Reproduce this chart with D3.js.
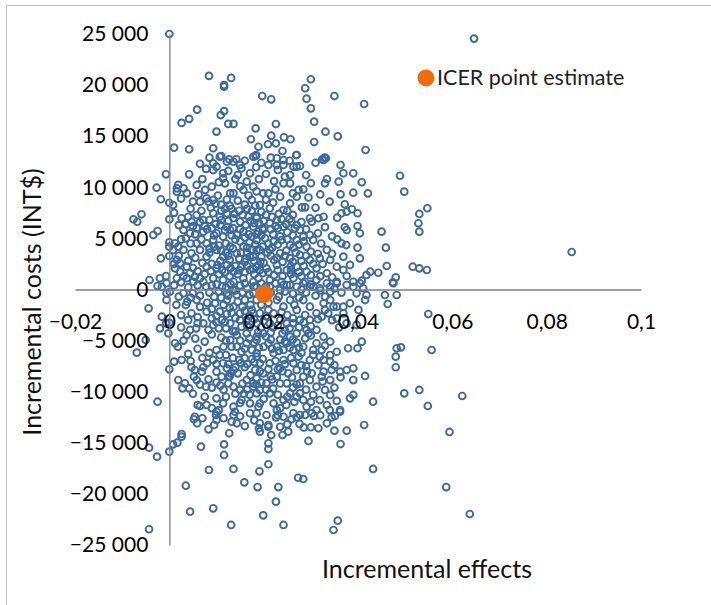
<!DOCTYPE html>
<html lang="en">
    <head>
        <meta charset="utf-8">
        <title>ICER scatter</title>
        <script type="text/javascript" src="https://cdn.jsdelivr.net/npm/d3@7"></script>
        <style type="text/css">
body {
    margin: 0;
    background-color: #ffffff;
}
svg {
    font-family: Lato, "Open Sans", sans-serif;
}
        </style>
    </head>
    <body>
        <script type="text/javascript">
var width=711;      // page size
var height=605;

// tick values of both axes
var xTicks=[-0.02, 0, 0.02, 0.04, 0.06, 0.08, 0.1];
var yTicks=[-25000, -20000, -15000, -10000, -5000, 0, 5000, 10000, 15000, 20000, 25000];

// point estimate of the ICER [effect, cost]
var icerPoint=[0.0201, -450];

// bootstrap replicates [incremental effect, incremental cost]
var psaPoints=[
[0,25000],[0.0646,24550],[0.0853,3670],[0.0621,-10420],
[0.0084,20900],[0.0131,20700],[0.0116,20000],[0.0116,19850],[0.0059,17600],[0.0042,16700],[0.0026,16300],[0.0116,17450],[0.0109,17070],[0.0125,16200],[0.0136,16200],[0.0100,15450],[0.0183,15770],[0.0173,14700],[0.0010,13880],[0.0042,13720],[0.0093,13820],[0.0189,13970],[0.0110,13060],[0.0127,12740],[0.0142,12740],[0.0183,13060],
[0.0197,18930],[0.0216,18610],[0.0300,20570],[0.0288,19690],[0.0291,18670],[0.0350,18930],[0.0300,17730],[0.0413,18150],[0.0307,16420],[0.0331,15440],[0.0226,16190],[0.0357,14990],[0.0216,15050],[0.0243,14890],[0.0257,14700],[0.0209,14210],[0.0226,14300],[0.0307,14430],[0.0240,13550],[0.0416,13650],[0.0269,13160],[0.0228,12840],[0.0329,12900],[0.0324,12740],
[0.0171,-12110],[0.0226,-12510],[0.0192,-13090],[0.0210,-13260],[0.0210,-13430],[0.0190,-13580],[0.0192,-13910],[0.0235,-13430],[0.0216,-14240],[0.0240,-14240],[0.0252,-13910],[0.0259,-12700],[0.0276,-13160],[0.0288,-12280],[0.0302,-12110],[0.0307,-12380],[0.0300,-13480],[0.0316,-13580],[0.0334,-13090],[0.0344,-12510],[0.0351,-12380],[0.0362,-11960],[0.0350,-13810],[0.0376,-13810],[0.0413,-13260],[0.0295,-14820],[0.0363,-15120],[0.0210,-15050],[0.0210,-15610],[0.0210,-17100],[0.0191,-17790],[0.0432,-17560],[0.0594,-13940],[0.0273,-18420],[0.0284,-18540],[0.0187,-19330],[0.0231,-19330],[0.0587,-19330],[0.0226,-20760],[0.0199,-22100],[0.0357,-22620],[0.0348,-23530],[0.0242,-23040],[0.0637,-21970],
[-0.0043,-15480],[-0.0026,-16360],[0,-15870],[0.0008,-15150],[0.0017,-14990],[0.0026,-14400],[0.0026,-14140],[0.0052,-12700],[0.0059,-13090],[0.0083,-13680],[0.0095,-13260],[0.0100,-12770],[0.0099,-12280],[0.0100,-11960],[0.0132,-12940],[0.0143,-13090],[0.0136,-12280],[0.0139,-11960],[0.0160,-13360],[0.0127,-14070],[0.0067,-15380],[0.0116,-15150],[0.0116,-16190],[0.0084,-17660],[0.0136,-17560],[0.0159,-18870],[0.0035,-19200],[0.0044,-21740],[0.0093,-21410],[0.0131,-23040],[-0.0043,-23460],
[-0.0044,-1840],[-0.0016,-2660],[-0.0020,-3800],[-0.0050,-4940],[-0.0069,-6180],[0,-7810],[0.0010,-7060],[-0.0025,-10980],[-0.0006,-1030],[-0.0006,-370],[0.0001,-220],[-0.0016,270],[-0.0025,340],[-0.0006,610],[-0.0007,-3310],[0,-3250],[-0.0002,-4290],[0.0012,-5260],[0.0018,-5600],[0.0037,-4450],[0.0026,-6900],[0.0019,-8860],[0.0028,-9670],[0.0033,-9180],[0.0047,-7610],[0.0054,-7880],[0.0052,-8530],[0.0042,-9670],[0.0058,-8860],[0.0072,-7610],[0.0069,-8040],[0.0078,-9510],[0.0083,-8790],[0.0060,-11300],[0.0065,-11400],[0.0054,-12450],[0.0079,-11300],[0.0044,-3960],[0.0057,-3800],[0.0047,-2330],[0.0035,-1520],[0.0038,-1190],[0.0030,-370],[0.0050,-370],[0.0058,-1030],[0.0072,-3310],[0.0083,-3960],[0.0093,-3470],[0.0090,-2820],[0.0079,-2170],[0.0097,-1350],[0.0107,-2170],[0.0111,-2980],[0.0100,-5920],[0.0107,-6410],[0.0093,-6900],[0.0114,-7220],[0.0122,-7710],[0.0100,-8040],[0.0111,-8530],[0.0125,-8530],[0.0136,-7880],[0.0129,-4940],[0.0143,-5600],[0.0153,-6090],[0.0160,-6730],[0.0164,-5260],[0.0175,-5920],[0.0185,-6570],[0.0143,-4450],[0.0164,-4290],[0.0185,-4620],[0.0136,-9510],[0.0150,-9830],[0.0164,-8860],[0.0178,-9510],[0.0192,-9830],[0.0153,-10810],[0.0171,-11140],[0.0189,-11470],[0.0136,-11470],[0.0114,-11140],[0.0100,-10650],[0.0122,-1030],[0.0136,-1680],[0.0150,-2330],[0.0164,-2980],[0.0129,-3310],[0.0153,-3640],[0.0178,-2330],[0.0185,-3310],[0.0122,-370],[0.0143,-540],[0.0160,-1030],[0.0178,-370],
[0.0242,440],[0.0256,440],[0.0270,270],[0.0284,610],[0.0305,270],[0.0319,120],[0.0341,-220],[0.0355,610],[0.0376,440],[0.0390,270],[0.0404,610],[0.0418,-540],[0.0397,-370],[0.0411,120],[0.0457,-540],[0.0463,-1420],[0.0475,610],[0.0482,-540],[0.0549,-2400],[0.0482,-5750],[0.0491,-5660],[0.0480,-6570],[0.0480,-7610],[0.0556,-5920],[0.0498,-10160],[0.0530,-9830],[0.0548,-11400],[0.0432,-10980],[0.0415,-8460],[0.0390,-8860],[0.0383,-10650],[0.0390,-10320],[0.0362,-11790],[0.0341,-10320],[0.0363,-8590],[0.0399,-5750],[0.0408,-5110],[0.0379,-5750],[0.0355,-6090],[0.0341,-6410],[0.0390,-7710],[0.0376,-7880],[0.0362,-8040],[0.0344,-7880],[0.0327,-8040],[0.0341,-7060],[0.0327,-6900],[0.0319,-6570],[0.0397,-3470],[0.0376,-3310],[0.0355,-2820],[0.0337,-2330],[0.0323,-2660],[0.0348,-1680],[0.0369,-1680],[0.0383,-1350],[0.0401,-2000],[0.0415,-1030],
[-0.0007,11270],[-0.0027,9960],[-0.0018,8830],[0,8490],[0.0008,8270],[0.0016,9900],[0.0016,9570],[0.0019,10230],[0.0042,11270],[0.0037,9410],[0.0050,8590],[0.0065,8590],[0.0058,10230],[0.0076,9740],[0.0090,10060],[0.0093,8760],[0.0079,8920],[0.0083,8590],[0.0093,12350],[0.0100,12020],[0.0107,12990],[0.0122,12500],[0.0136,12500],[0.0150,12180],[0.0153,11860],[0.0093,11690],[0.0114,11370],[0.0114,10880],[0.0118,10390],[0.0129,9410],[0.0136,9410],[0.0157,9740],[0.0164,10550],[0.0178,10060],[0.0175,8760],[0.0178,12990],[0.0171,11370],
[-0.0076,6870],[-0.0068,6630],[-0.0059,7360],[-0.0034,5330],[-0.0025,5720],[0,6870],[0,4620],[0,4190],[-0.0018,3050],[0,3280],[-0.0020,1100],[-0.0007,1320],[-0.0042,930],
[0.0012,4520],[0.0019,4190],[0.0008,3870],[0.0016,2890],[0.0023,2560],[0.0012,2070],[0.0023,1740],[0.0037,2230],[0.0044,1590],[0.0037,1100],[0.0054,1250],[0.0065,1100],[0.0016,1100],[0.0051,760],[0.0072,760],
[0.0026,6970],[0.0040,7120],[0.0047,6630],[0.0058,7290],[0.0072,6800],[0.0093,7460],[0.0107,7120],[0.0122,7460],[0.0136,6970],[0.0150,6630],[0.0168,7120],[0.0185,6970],
[0.0030,5820],[0.0044,5500],[0.0058,5990],[0.0072,5660],[0.0090,5990],[0.0100,5500],[0.0114,5170],[0.0129,5820],[0.0143,5330],[0.0157,5660],[0.0175,5170],[0.0189,5660],
[0.0030,3870],[0.0047,3540],[0.0065,3870],[0.0079,3210],[0.0093,4840],[0.0100,3870],[0.0114,3210],[0.0129,4190],[0.0143,3540],[0.0157,4190],[0.0171,3210],[0.0185,3870],[0.0079,4520],[0.0058,4520],
[0.0079,2230],[0.0100,2070],[0.0122,2400],[0.0136,1740],[0.0153,2230],[0.0171,1910],[0.0189,2400],[0.0093,1100],[0.0114,930],[0.0136,760],[0.0157,1100],[0.0178,760],
[0.0184,13160],[0.0184,11960],[0.0210,12180],[0.0242,12670],[0.0228,12180],[0.0242,12180],[0.0270,13160],[0.0270,12020],[0.0277,12080],[0.0327,12670],[0.0332,12840],[0.0363,12180],[0.0369,11370],[0.0359,10550],[0.0390,11370],[0.0408,10490],[0.0421,9410],[0.0363,9310],[0.0390,9470],[0.0334,10810],[0.0330,10390],[0.0489,11130],[0.0498,9570],[0.0547,7950],[0.0530,7390],[0.0528,6480],[0.0530,5660],[0.0450,5660],[0.0459,4090],[0.0516,2230],[0.0530,2070],[0.0546,1910],[0.0480,1190],[0.0474,700],[0.0443,1640],[0.0426,1740],[0.0418,1420],[0.0408,860],[0.0461,2300],[0.0404,3050],[0.0399,4090],[0.0383,2400],[0.0369,1910],[0.0376,1320],[0.0356,4910],[0.0365,4520],[0.0375,4350],[0.0372,6090],[0.0376,5820],[0.0399,6210],[0.0404,5500],[0.0356,7030],[0.0365,7460],[0.0376,7610],[0.0387,7850],[0.0399,7460],[0.0372,8340],[0.0327,7120],[0.0316,6970],[0.0298,6970],[0.0302,6630],[0.0288,8040],[0.0281,8040],[0.0274,9740],[0.0284,9800],[0.0242,10390],[0.0256,10390],[0.0245,11040],[0.0256,11200],[0.0263,12020],[0.0199,9410],[0.0210,9410],[0.0235,9080],[0.0256,8430],[0.0270,9080],[0.0242,7780],[0.0213,7950],[0.0192,8270],
[0.0185,7120],[0.0178,6140],[0.0199,5820],[0.0213,6480],[0.0228,6800],[0.0242,6140],[0.0259,6630],[0.0266,5990],[0.0277,5820],[0.0284,5170],[0.0298,5330],
[0.0185,4840],[0.0203,5010],[0.0221,4680],[0.0238,4840],[0.0256,4350],[0.0270,4840],[0.0291,4190],[0.0305,4840],[0.0334,3870],[0.0341,2890],[0.0319,3050],[0.0298,2890],[0.0277,3380],[0.0256,3050],[0.0235,3540],[0.0213,3870],[0.0192,3870],[0.0178,3210],
[0.0185,2230],[0.0206,2070],[0.0228,2400],[0.0249,1910],[0.0270,2230],[0.0291,1740],[0.0312,2070],[0.0334,1590],[0.0355,2230],[0.0369,3210],[0.0189,1100],[0.0213,930],[0.0238,760],[0.0263,1100],[0.0288,760],[0.0312,930],[0.0334,610],[0.0355,760],[0.0390,760],[0.0185,270],[0.0249,440],[0.0298,270],[0.0341,270],
[0.0312,-3960],[0.0327,-4620],[0.0341,-5110],[0.0312,-5260],[0.0305,-5920],[0.0323,-5920],[0.0298,-6900],[0.0316,-7390],[0.0302,-8200],[0.0323,-8530],[0.0341,-8860],[0.0312,-9510],[0.0330,-9830],[0.0298,-8860],[0.0305,-10320],[0.0319,-10810],[0.0334,-11300],[0.0312,-11790],[0.0291,-11470],[0.0284,-10810],[0.0277,-10160],[0.0277,-9180],[0.0284,-8530],[0.0270,-7880],[0.0263,-7220],[0.0274,-6570],[0.0263,-5920],[0.0284,-5600],[0.0288,-4780],[0.0291,-3960],[0.0270,-4290],[0.0256,-4620],[0.0249,-5260],[0.0242,-5920],[0.0242,-6900],[0.0235,-7710],[0.0228,-8530],[0.0249,-9180],[0.0256,-10160],[0.0242,-10810],[0.0235,-11620],[0.0221,-11140],[0.0213,-10160],[0.0206,-9180],[0.0199,-8200],[0.0192,-7220],[0.0213,-7220],[0.0221,-6240],[0.0228,-5600],[0.0210,-5260],[0.0199,-4290],[0.0185,-4940],[0.0185,-6240],[0.0182,-7880],[0.0178,-9180],[0.0185,-10160],[0.0192,-11140],[0.0185,-12110],[0.0206,-12280],[0.0242,-12450],[0.0263,-12110],[0.0277,-12280],
[0.0228,-1030],[0.0242,-1680],[0.0256,-1030],[0.0270,-2000],[0.0284,-1030],[0.0298,-1680],[0.0312,-2330],[0.0327,-1350],[0.0341,-1030],[0.0355,-1680],[0.0369,-2330],[0.0221,-2330],[0.0235,-2980],[0.0213,-3310],[0.0192,-2330],[0.0185,-1030],[0.0175,-2000],[0.0249,-3310],[0.0277,-2980],[0.0298,-2980],[0.0235,-50],[0.0213,270],
// denser core, second reading
[0.0065,12300],[0.0078,11800],[0.0085,12900],[0.0125,11600],[0.0145,11200],[0.0160,12600],[0.0195,12400],[0.0205,11300],[0.0222,10600],[0.0190,10800],[0.0140,10800],[0.0105,10500],[0.0070,10800],[0.0230,11700],[0.0215,12900],[0.0255,12600],[0.0290,11200],[0.0300,10400],[0.0310,12400],
[0.0025,8900],[0.0030,9900],[0.0062,9300],[0.0068,7700],[0.0088,8000],[0.0103,9200],[0.0110,8300],[0.0122,8800],[0.0132,7900],[0.0145,8700],[0.0150,10100],[0.0160,8300],[0.0168,9200],[0.0185,9600],[0.0195,7600],[0.0205,8800],[0.0220,8500],[0.0225,9800],[0.0232,7400],[0.0250,7700],[0.0262,9400],[0.0295,9000],[0.0310,8000],[0.0320,9300],[0.0340,8600],[0.0010,7500],[0.0045,7900],[0.0110,7700],[0.0155,7300],[0.0175,7700],
[0.0020,6300],[0.0035,5000],[0.0050,6200],[0.0065,6600],[0.0080,5900],[0.0085,6800],[0.0095,5300],[0.0108,6300],[0.0118,5800],[0.0125,6700],[0.0135,6000],[0.0140,4900],[0.0150,5900],[0.0162,6300],[0.0168,5400],[0.0180,6500],[0.0195,5300],[0.0200,6700],[0.0220,5400],[0.0230,6000],[0.0250,5600],[0.0255,6900],[0.0270,6300],[0.0290,5900],[0.0315,5500],[0.0330,6100],[0.0345,5200],[0.0322,4500],[0.0285,4700],[0.0250,4900],[0.0230,4400],[0.0210,4500],[0.0170,4600],[0.0150,4700],[0.0120,4500],[0.0105,4300],[0.0085,4000],[0.0068,4900],[0.0045,4500],[0.0025,4900],[0.0035,6400],[0.0110,6800],[0.0165,4100],[0.0198,4200],[0.0263,4100],
[0.0020,3300],[0.0040,2800],[0.0055,3100],[0.0070,2600],[0.0085,3600],[0.0090,2500],[0.0108,2800],[0.0120,3600],[0.0128,2900],[0.0140,2300],[0.0148,3000],[0.0160,2700],[0.0165,3600],[0.0180,2800],[0.0195,3200],[0.0200,2600],[0.0215,3300],[0.0222,2900],[0.0240,2700],[0.0245,3300],[0.0262,2700],[0.0280,2800],[0.0290,3300],[0.0305,2500],[0.0325,2500],[0.0345,3500],[0.0060,1800],[0.0075,1500],[0.0088,1800],[0.0105,1500],[0.0118,1700],[0.0128,1300],[0.0145,1500],[0.0160,1700],[0.0180,1500],[0.0198,1600],[0.0222,1400],[0.0240,1300],[0.0258,1500],[0.0280,1300],[0.0300,1400],[0.0320,1300],[0.0345,1200],[0.0030,1300],[0.0010,2500],[0.0050,2100],
[0.0010,400],[0.0025,700],[0.0040,200],[0.0060,400],[0.0078,300],[0.0085,-300],[0.0100,500],[0.0105,-200],[0.0120,200],[0.0130,500],[0.0140,-100],[0.0150,400],[0.0165,100],[0.0170,-500],[0.0195,600],[0.0205,300],[0.0225,600],[0.0232,-700],[0.0262,-400],[0.0275,-800],[0.0290,-300],[0.0310,-600],[0.0320,-100],[0.0330,-700],[0.0350,100],[0.0365,-300],[0.0065,-600],[0.0045,-800],[0.0020,-700],[0.0110,-800],
[0.0015,-1500],[0.0025,-2500],[0.0040,-3000],[0.0060,-2700],[0.0065,-1700],[0.0080,-1300],[0.0090,-1900],[0.0100,-2600],[0.0115,-1500],[0.0122,-2400],[0.0128,-1800],[0.0140,-2800],[0.0145,-1200],[0.0155,-1700],[0.0170,-2600],[0.0172,-1500],[0.0195,-1500],[0.0205,-2600],[0.0210,-1300],[0.0220,-3700],[0.0238,-2200],[0.0250,-2500],[0.0262,-2800],[0.0265,-1500],[0.0288,-2500],[0.0300,-3600],[0.0315,-2900],[0.0330,-2000],[0.0345,-3000],[0.0360,-3700],[0.0195,-3700],[0.0170,-3700],[0.0120,-3800],[0.0100,-3200],[0.0060,-3300],[0.0025,-3700],
[0.0030,-5000],[0.0040,-6300],[0.0055,-4800],[0.0060,-5800],[0.0070,-6700],[0.0075,-5100],[0.0085,-6200],[0.0090,-4400],[0.0110,-4700],[0.0115,-5600],[0.0120,-6400],[0.0125,-7300],[0.0135,-6700],[0.0140,-4100],[0.0148,-6900],[0.0160,-7600],[0.0170,-4800],[0.0175,-6800],[0.0190,-5700],[0.0198,-6800],[0.0205,-4600],[0.0218,-5800],[0.0225,-7000],[0.0235,-4900],[0.0240,-4300],[0.0255,-5700],[0.0258,-6700],[0.0270,-5200],[0.0280,-6200],[0.0290,-7500],[0.0300,-4500],[0.0305,-6400],[0.0330,-5500],[0.0350,-7400],[0.0150,-5000],[0.0100,-7300],[0.0080,-7200],[0.0045,-7000],
[0.0050,-10200],[0.0065,-9300],[0.0075,-10500],[0.0090,-9600],[0.0100,-9100],[0.0105,-11800],[0.0115,-9800],[0.0120,-10500],[0.0128,-8500],[0.0145,-8200],[0.0150,-11100],[0.0158,-10200],[0.0165,-9800],[0.0172,-8400],[0.0185,-8700],[0.0195,-9100],[0.0200,-10700],[0.0215,-8500],[0.0220,-9700],[0.0228,-11800],[0.0240,-8000],[0.0248,-11300],[0.0262,-9600],[0.0265,-11000],[0.0290,-9800],[0.0300,-11000],[0.0325,-9000],[0.0340,-11800],[0.0350,-9600],[0.0355,-10900],[0.0140,-10200],[0.0090,-11600],
[0.0070,-12600],[0.0115,-12600],[0.0150,-12400],[0.0180,-12800],[0.0230,-12300],[0.0250,-13200],[0.0270,-12500],[0.0285,-13500],[0.0320,-12300],
// densest part, third reading
[0.0098,8400],[0.0118,7900],[0.0128,8200],[0.0138,7400],[0.0148,7700],[0.0165,7900],[0.0172,6700],[0.0182,8200],[0.0190,6500],[0.0205,7300],[0.0218,7100],[0.0225,6200],[0.0238,6900],[0.0248,6400],[0.0262,7300],[0.0198,6000],[0.0185,5400],[0.0160,5100],[0.0132,5300],[0.0122,6100],[0.0098,6400],[0.0075,6200],[0.0055,5400],[0.0215,5900],[0.0235,5200],[0.0262,5300],[0.0280,6600],
[0.0095,4200],[0.0110,3800],[0.0125,3300],[0.0135,4000],[0.0152,3600],[0.0162,3000],[0.0175,3900],[0.0182,4400],[0.0193,2700],[0.0208,3600],[0.0218,4100],[0.0228,3100],[0.0248,3800],[0.0258,2300],[0.0268,3600],[0.0275,4400],[0.0285,2300],[0.0300,3700],[0.0315,3500],[0.0102,2400],[0.0112,1900],[0.0130,2100],[0.0148,1900],[0.0165,2300],[0.0178,2000],[0.0192,1900],[0.0210,1700],[0.0230,1900],[0.0258,1900],[0.0275,1700],
[0.0090,400],[0.0112,300],[0.0135,0],[0.0155,-300],[0.0180,300],[0.0215,-300],[0.0245,-200],[0.0280,0],[0.0300,500],[0.0095,-700],[0.0125,-600],[0.0160,600],
[0.0105,-3800],[0.0118,-3200],[0.0132,-2300],[0.0135,-4100],[0.0150,-3000],[0.0160,-2100],[0.0165,-3500],[0.0180,-2900],[0.0188,-4200],[0.0200,-3100],[0.0210,-2000],[0.0215,-4200],[0.0230,-3500],[0.0245,-4000],[0.0255,-3800],[0.0262,-3300],[0.0275,-3700],[0.0285,-3200],[0.0295,-4300],[0.0200,-5600],[0.0215,-4900],[0.0232,-6000],[0.0245,-5100],[0.0262,-4900],[0.0275,-5700],[0.0180,-5200],[0.0160,-5800],[0.0132,-5600],[0.0120,-5000],
[0.0140,-7600],[0.0152,-7200],[0.0165,-7300],[0.0180,-7100],[0.0192,-8000],[0.0210,-7800],[0.0218,-8800],[0.0230,-7800],[0.0245,-7300],[0.0252,-8200],[0.0260,-8600],[0.0270,-9300],[0.0280,-7400],[0.0292,-8000],[0.0155,-9200],[0.0170,-10300],[0.0185,-9300],[0.0205,-9800],[0.0230,-10300],[0.0235,-9200],[0.0250,-10500],[0.0270,-10500],[0.0130,-8200],[0.0108,-9400],[0.0125,-9200]
];

var pointColor="#3d6a9c";
var icerColor="#ef6c0c";
var axisColor="#7f7f7f";

var locale=d3.formatLocale({decimal: ",", thousands: "\u00a0", grouping: [3], currency: ["", ""]});
var fmtCost=locale.format(",d");
var fmtEffect=locale.format(".2~f");

var x=d3.scaleLinear().domain([-0.02, 0.1]).range([75, 641]);
var y=d3.scaleLinear().domain([-25000, 25000]).range([545, 34]);

var svg=d3.select("body").append("svg")
    .attr("width",width).attr("height",height);

// chart frame, only top and left edges fall inside the shot
svg.append("path")
    .attr("d","M6.5,605 V5.5 H711")
    .attr("fill","none").attr("stroke","#bfbfbf").attr("stroke-width",1);

// replicates
svg.append("g").selectAll("circle")
    .data(psaPoints)
  .enter().append("circle")
    .attr("cx",function(d){ return x(d[0]); })
    .attr("cy",function(d){ return y(d[1]); })
    .attr("r",3.4)
    .attr("fill","none")
    .attr("stroke",pointColor)
    .attr("stroke-width",1.9);

// axes crossing at zero, drawn over the points like the labels in the original
var xAxis=svg.append("g")
    .attr("transform","translate(0,"+y(0)+")")
    .call(d3.axisBottom(x).tickValues(xTicks).tickSize(0).tickPadding(32).tickFormat(fmtEffect));
var yAxis=svg.append("g")
    .attr("transform","translate("+x(0)+",0)")
    .call(d3.axisLeft(y).tickValues(yTicks).tickSize(0).tickPadding(21).tickFormat(fmtCost));

[xAxis, yAxis].forEach(function(a) {
    a.select(".domain").attr("stroke",axisColor).attr("stroke-width",1.3);
    a.selectAll("text").attr("font-size",21).attr("fill","#000").attr("font-family","Lato, sans-serif");
});
xAxis.selectAll("text").attr("dy","0.35em");

// ICER point estimate
svg.append("circle")
    .attr("cx",x(icerPoint[0])).attr("cy",y(icerPoint[1])).attr("r",9)
    .attr("fill",icerColor);

// legend
svg.append("circle").attr("cx",426).attr("cy",78).attr("r",8.5).attr("fill",icerColor);
svg.append("text").attr("x",437).attr("y",85).attr("font-size",21.5).attr("fill","#222")
    .text("ICER point estimate");

// axis titles
svg.append("text")
    .attr("x",427).attr("y",578).attr("text-anchor","middle")
    .attr("font-size",25).attr("fill","#111")
    .text("Incremental effects");
svg.append("text")
    .attr("transform","translate(41,302) rotate(-90)")
    .attr("text-anchor","middle")
    .attr("font-size",25).attr("fill","#111")
    .text("Incremental costs (INT$)");
        </script>
    </body>
</html>
